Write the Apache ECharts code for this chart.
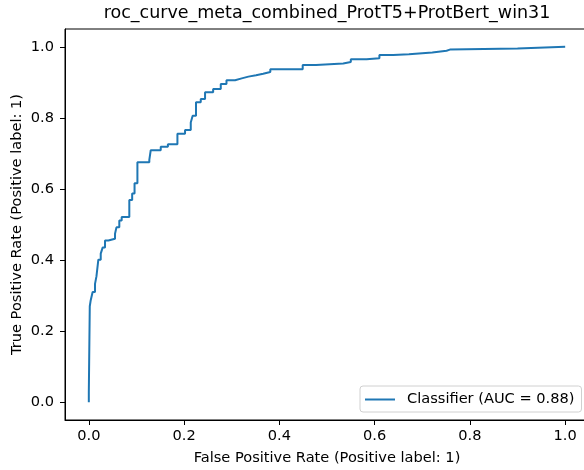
<!DOCTYPE html>
<html>
<head>
<meta charset="utf-8">
<script src="https://cdn.jsdelivr.net/npm/echarts@6/dist/echarts.min.js"></script>
<style>
  html, body { margin: 0; padding: 0; background: #fff; overflow: hidden; }
  #chart { width: 600px; height: 470px; }
</style>
</head>
<body>
<div id="chart"></div>
<script>
// ROC curve corner points (false positive rate, true positive rate)
const fpr = [
  0.000, 0.000, 0.002, 0.002, 0.004, 0.004, 0.008, 0.008, 0.013, 0.013,
  0.016, 0.016, 0.020, 0.020, 0.025, 0.025, 0.029, 0.029, 0.034, 0.034,
  0.041, 0.041, 0.055, 0.055, 0.058, 0.058, 0.064, 0.064, 0.069, 0.069,
  0.085, 0.085, 0.091, 0.091, 0.096, 0.096, 0.102, 0.102, 0.127, 0.127,
  0.130, 0.130, 0.151, 0.151, 0.166, 0.166, 0.186, 0.186, 0.202, 0.202,
  0.214, 0.214, 0.218, 0.218, 0.225, 0.225, 0.235, 0.235, 0.244, 0.244,
  0.261, 0.261, 0.277, 0.277, 0.289, 0.289, 0.307, 0.307, 0.321, 0.321,
  0.335, 0.335, 0.351, 0.351, 0.366, 0.366, 0.381, 0.381, 0.449, 0.449,
  0.477, 0.477, 0.534, 0.534, 0.550, 0.550, 0.583, 0.583, 0.610, 0.610,
  0.639, 0.639, 0.672, 0.672, 0.721, 0.721, 0.751, 0.751, 0.758, 0.758,
  0.900, 0.900, 1.000
];
const tpr = [
  0.000, 0.029, 0.029, 0.270, 0.270, 0.287, 0.287, 0.310, 0.310, 0.333,
  0.333, 0.354, 0.354, 0.401, 0.401, 0.418, 0.418, 0.435, 0.435, 0.455,
  0.455, 0.460, 0.460, 0.474, 0.474, 0.492, 0.492, 0.511, 0.511, 0.521,
  0.521, 0.569, 0.569, 0.587, 0.587, 0.616, 0.616, 0.675, 0.675, 0.682,
  0.682, 0.709, 0.709, 0.719, 0.719, 0.726, 0.726, 0.755, 0.755, 0.766,
  0.766, 0.787, 0.787, 0.806, 0.806, 0.844, 0.844, 0.853, 0.853, 0.872,
  0.872, 0.881, 0.881, 0.895, 0.895, 0.906, 0.906, 0.911, 0.911, 0.916,
  0.916, 0.920, 0.920, 0.924, 0.924, 0.929, 0.929, 0.937, 0.937, 0.949,
  0.949, 0.953, 0.953, 0.957, 0.957, 0.965, 0.965, 0.968, 0.968, 0.977,
  0.977, 0.979, 0.979, 0.984, 0.984, 0.989, 0.989, 0.992, 0.992, 0.995,
  0.995, 1.000, 1.000
];
const tickValues = [0.0, 0.2, 0.4, 0.6, 0.8, 1.0];
const seriesName = 'Classifier (AUC = 0.88)';
const chartTitle = 'roc_curve_meta_combined_ProtT5+ProtBert_win31';
const xLabel = 'False Positive Rate (Positive label: 1)';
const yLabel = 'True Positive Rate (Positive label: 1)';

const FONT = 'DejaVu Sans';
const LABEL_SIZE = 14.6;
const points = fpr.map((x, i) => [x, tpr[i]]);

function axisCommon(name, isX) {
  return {
    type: 'value',
    min: -0.05,
    max: 1.05,
    name: name,
    nameLocation: 'middle',
    nameGap: isX ? 31 : 40,
    nameMoveOverlap: false,
    nameTextStyle: { fontFamily: FONT, fontSize: LABEL_SIZE, color: '#000' },
    axisLine: { show: true, onZero: false, lineStyle: { color: '#000', width: 1 } },
    axisTick: {
      show: true, inside: false, length: 5,
      customValues: tickValues,
      lineStyle: { color: '#000', width: 1 }
    },
    axisLabel: {
      show: true,
      customValues: tickValues,
      margin: isX ? 9 : 11,
      fontFamily: FONT, fontSize: LABEL_SIZE, color: '#000',
      formatter: v => v.toFixed(1)
    },
    splitLine: { show: false }
  };
}

const chart = echarts.init(document.getElementById('chart'), null, { renderer: 'canvas' });
chart.setOption({
  animation: false,
  backgroundColor: '#fff',
  title: {
    text: chartTitle,
    left: 327,
    top: 4,
    padding: 0,
    textAlign: 'center',
    textStyle: { fontFamily: FONT, fontSize: 17.5, fontWeight: 'normal', color: '#000' }
  },
  grid: {
    left: 65, top: 29, width: 524, height: 391,
    show: true, borderColor: '#000', borderWidth: 1, backgroundColor: 'transparent',
    containLabel: false,
    outerBoundsMode: 'none'
  },
  xAxis: axisCommon(xLabel, true),
  yAxis: axisCommon(yLabel, false),
  legend: {
    data: [seriesName],
    left: 360,
    top: 386,
    orient: 'horizontal',
    icon: 'rect',
    itemWidth: 30,
    itemHeight: 2,
    padding: [6, 7, 5, 5],
    backgroundColor: 'rgba(255,255,255,0.8)',
    borderColor: '#d0d0d0',
    borderWidth: 1,
    borderRadius: 3,
    textStyle: { fontFamily: FONT, fontSize: LABEL_SIZE, color: '#000', padding: [0, 0, 0, 7] }
  },
  series: [{
    name: seriesName,
    type: 'line',
    data: points,
    showSymbol: false,
    symbol: 'none',
    lineStyle: { color: '#1f77b4', width: 2 },
    itemStyle: { color: '#1f77b4' },
    clip: false
  }]
});
</script>
</body>
</html>
